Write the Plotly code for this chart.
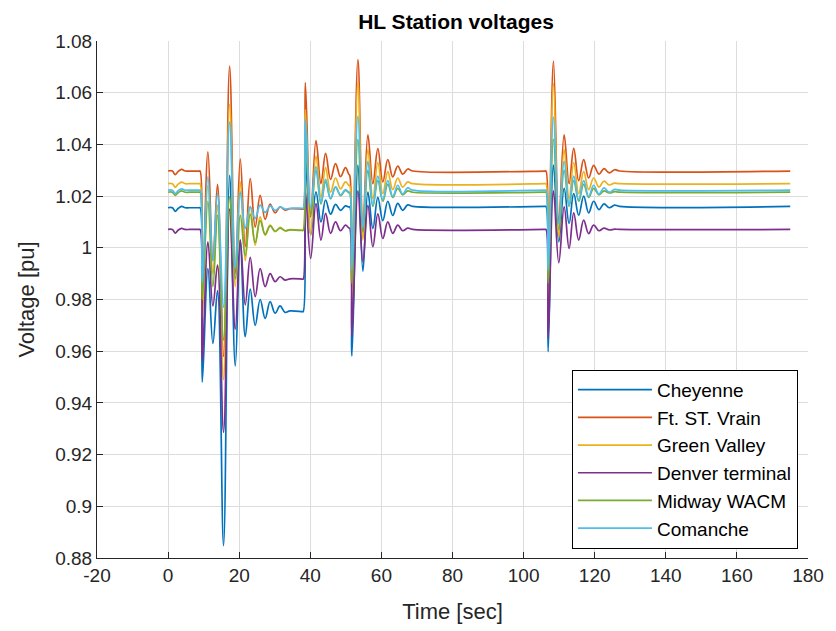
import plotly.graph_objects as go

# Time base (s) shared by all stations: steady state, then four disturbance events
time = [0, 1.2, 2.0, 2.8, 3.8, 4.8, 6.0, 8.7, 9.0,
        9.6, 11.2, 12.6, 13.9, 15.6, 17.3, 18.9, 20.3, 21.7, 23.1, 24.5, 25.9, 27.3, 28.7, 30.1, 31.5, 32.9, 34.3, 37.7, 38.0,
        38.6, 40.1, 41.6, 43.0, 44.3, 45.7, 47.1, 48.5, 49.9, 50.8, 51.1,
        51.7, 53.4, 54.8, 56.2, 57.6, 59.0, 60.4, 61.8, 63.2, 64.6, 66.0, 67.4, 68.8, 106.0, 106.3,
        106.9, 108.4, 109.9, 111.4, 112.8, 114.1, 115.5, 116.9, 118.3, 119.7, 121.2, 122.6, 124.1, 125.6, 127.0, 175.0]

cheyenne = [1.0155, 1.0155, 1.0141, 1.0152, 1.0160, 1.0155, 1.0155, 1.0155, 1.0155,
            0.948, 0.992, 0.963, 0.9834, 0.8848, 1.028, 0.9543, 1.003, 0.9656, 0.984, 0.970, 0.980, 0.9727, 0.9792, 0.9747, 0.9775, 0.9750, 0.9756, 0.9753, 0.9753,
            1.036, 1.005, 1.0216, 1.010, 1.0185, 1.013, 1.0168, 1.0145, 1.0162, 1.0158, 1.0158,
            0.9582, 1.032, 0.991, 1.0215, 1.0075, 1.0195, 1.0105, 1.018, 1.0125, 1.0172, 1.0145, 1.0166, 1.016, 1.016, 1.016,
            0.9598, 1.032, 1.0023, 1.023, 1.0094, 1.021, 1.0126, 1.020, 1.0135, 1.018, 1.0148, 1.017, 1.0155, 1.0165, 1.016, 1.016]

ft_st_vrain = [1.0297, 1.0297, 1.0283, 1.0295, 1.0303, 1.0297, 1.0297, 1.0297, 1.0297,
               0.980, 1.0371, 0.995, 1.0245, 0.958, 1.0703, 0.990, 1.0344, 1.0005, 1.0268, 1.008, 1.0203, 1.011, 1.0169, 1.0135, 1.0158, 1.0146, 1.0151, 1.015, 1.015,
               1.0639, 1.012, 1.0415, 1.0248, 1.0365, 1.0265, 1.0326, 1.0275, 1.031, 1.0285, 1.028,
               0.985, 1.0728, 1.008, 1.0437, 1.0248, 1.0384, 1.0255, 1.0341, 1.0274, 1.0316, 1.0285, 1.0305, 1.0297, 1.0297, 1.0297,
               0.985, 1.0722, 1.010, 1.0437, 1.0248, 1.0385, 1.026, 1.0341, 1.027, 1.0319, 1.0285, 1.0306, 1.029, 1.0302, 1.0297, 1.0297]

green_valley = [1.0248, 1.0248, 1.0234, 1.0246, 1.0254, 1.0248, 1.0248, 1.0248, 1.0248,
                0.973, 1.024, 0.990, 1.0165, 0.949, 1.0555, 0.985, 1.0255, 0.995, 1.016, 1.001, 1.012, 1.0049, 1.0088, 1.0062, 1.0079, 1.0066, 1.0070, 1.0068, 1.0068,
                1.0535, 1.005, 1.0355, 1.0197, 1.031, 1.0215, 1.027, 1.0228, 1.0255, 1.0242, 1.024,
                0.9805, 1.064, 1.003, 1.038, 1.019, 1.033, 1.021, 1.0295, 1.0225, 1.027, 1.0235, 1.0255, 1.0248, 1.0248, 1.0248,
                0.9811, 1.0635, 1.004, 1.038, 1.019, 1.033, 1.021, 1.0295, 1.0225, 1.027, 1.0235, 1.0258, 1.0243, 1.025, 1.0248, 1.0248]

denver_terminal = [1.0071, 1.0071, 1.0057, 1.0068, 1.0075, 1.0071, 1.0071, 1.0071, 1.0071,
                   0.956, 1.0023, 0.9775, 0.9933, 0.9286, 1.015, 0.9685, 1.003, 0.9779, 0.9963, 0.9811, 0.992, 0.985, 0.990, 0.9869, 0.9888, 0.9875, 0.9880, 0.9879, 0.9879,
                   1.022, 0.9959, 1.0171, 1.003, 1.0133, 1.0056, 1.010, 1.0066, 1.0088, 1.0077, 1.0075,
                   0.9656, 1.022, 0.9946, 1.0164, 1.0004, 1.0131, 1.0036, 1.010, 1.0056, 1.0088, 1.0066, 1.0076, 1.0071, 1.0071, 1.0071,
                   0.9650, 1.022, 0.9942, 1.0158, 0.9998, 1.0135, 1.003, 1.0107, 1.0055, 1.0088, 1.0066, 1.0076, 1.0069, 1.0072, 1.0071, 1.0071]

midway_wacm = [1.0215, 1.0215, 1.0203, 1.0213, 1.0220, 1.0215, 1.0215, 1.0215, 1.0215,
               0.980, 1.018, 0.985, 1.0126, 0.9644, 1.0197, 0.988, 1.0126, 0.997, 1.013, 1.002, 1.0105, 1.0052, 1.0085, 1.0064, 1.0076, 1.0066, 1.0069, 1.0067, 1.0067,
               1.045, 1.0126, 1.030, 1.017, 1.0255, 1.019, 1.0235, 1.0202, 1.0222, 1.0213, 1.0212,
               0.9863, 1.042, 1.006, 1.030, 1.016, 1.026, 1.018, 1.0245, 1.0195, 1.023, 1.0205, 1.022, 1.0215, 1.0215, 1.0215,
               0.9863, 1.042, 1.007, 1.030, 1.016, 1.026, 1.018, 1.0245, 1.0195, 1.023, 1.0205, 1.022, 1.0212, 1.0217, 1.0215, 1.0215]

comanche = [1.0223, 1.0223, 1.0210, 1.0221, 1.0228, 1.0223, 1.0223, 1.0223, 1.0223,
            0.9865, 1.0275, 0.995, 1.021, 0.977, 1.0486, 0.992, 1.0216, 1.0075, 1.0158, 1.0114, 1.0165, 1.0137, 1.0162, 1.0145, 1.0157, 1.0150, 1.0153, 1.0153, 1.0153,
            1.0497, 1.0158, 1.0313, 1.0175, 1.0265, 1.019, 1.0236, 1.0205, 1.0225, 1.0216, 1.0215,
            0.9914, 1.0509, 1.008, 1.0334, 1.0165, 1.0277, 1.0185, 1.026, 1.0198, 1.0242, 1.0208, 1.0232, 1.0223, 1.0223, 1.0223,
            0.9914, 1.0506, 1.0094, 1.0334, 1.0165, 1.0277, 1.0185, 1.026, 1.0198, 1.0242, 1.0208, 1.0232, 1.0215, 1.0226, 1.0223, 1.0223]

station_names = ["Cheyenne", "Ft. ST. Vrain", "Green Valley", "Denver terminal", "Midway WACM", "Comanche"]
station_values = [cheyenne, ft_st_vrain, green_valley, denver_terminal, midway_wacm, comanche]
colors = ["#0072BD", "#D95319", "#EDB120", "#7E2F8E", "#77AC30", "#4DBEEE"]

y_ticks = [0.88, 0.90, 0.92, 0.94, 0.96, 0.98, 1.00, 1.02, 1.04, 1.06, 1.08]
y_tick_text = ["0.88", "0.9", "0.92", "0.94", "0.96", "0.98", "1", "1.02", "1.04", "1.06", "1.08"]
x_ticks = [-20, 0, 20, 40, 60, 80, 100, 120, 140, 160, 180]
x_tick_text = ["-20", "0", "20", "40", "60", "80", "100", "120", "140", "160", "180"]

FONT = "Liberation Sans, Arial, Helvetica, sans-serif"
DARK = "#262626"
GRID = "#dcdcdc"

fig = go.Figure()
for name, vals, col in zip(station_names, station_values, colors):
    fig.add_trace(go.Scatter(x=time, y=vals, name=name, mode="lines",
                             line=dict(color=col, width=1.7, shape="spline", smoothing=1.1)))

axis_common = dict(showgrid=True, gridcolor=GRID, gridwidth=1, zeroline=False,
                   showline=True, linecolor=DARK, linewidth=1, mirror=False,
                   ticks="inside", ticklen=6, tickcolor=DARK, tickwidth=1,
                   tickfont=dict(family=FONT, size=19, color=DARK))

fig.update_xaxes(range=[-20, 180], tickvals=x_ticks, ticktext=x_tick_text,
                 title=dict(text="Time [sec]", font=dict(family=FONT, size=22, color=DARK), standoff=18),
                 **axis_common)
fig.update_yaxes(range=[0.88, 1.08], tickvals=y_ticks, ticktext=y_tick_text,
                 title=dict(text="Voltage [pu]", font=dict(family=FONT, size=22, color=DARK), standoff=14),
                 **axis_common)

fig.update_layout(
    width=836, height=631,
    margin=dict(l=97, r=21, t=41, b=73),
    paper_bgcolor="white", plot_bgcolor="white",
    title=dict(text="<b>HL Station voltages</b>", x=(97 + 815) / 2 / 836, xanchor="center",
               y=1 - 22 / 631, yanchor="middle",
               font=dict(family=FONT, size=21, color="black")),
    legend=dict(x=0.668, y=0.364, xanchor="left", yanchor="top",
                bgcolor="white", bordercolor="black", borderwidth=1,
                font=dict(family=FONT, size=19, color="black"),
                itemwidth=74, tracegroupgap=0),
    showlegend=True,
)

fig.write_html("out.html")
